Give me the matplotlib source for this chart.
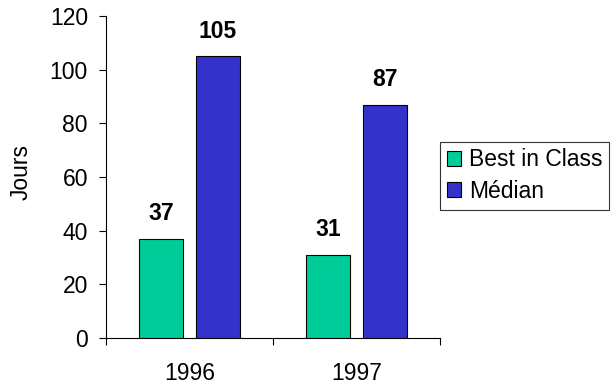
import matplotlib
matplotlib.use("Agg")
import matplotlib.pyplot as plt
import numpy as np

years = ["1996", "1997"]
best_in_class = [37, 31]
median = [105, 87]
series_names = ["Best in Class", "Médian"]
colors = ["#00CC99", "#3333CC"]

plt.rcParams["font.family"] = ["Liberation Sans", "DejaVu Sans"]

fig = plt.figure(figsize=(6.11, 3.87), dpi=100)
ax = fig.add_axes([106 / 611, 1 - 338 / 387, (440 - 106) / 611, (338 - 16) / 387])

x = np.arange(len(years))
w = 0.263
off = 0.17
fs = 16.5

for vals, name, col, sgn in [(best_in_class, series_names[0], colors[0], -1),
                             (median, series_names[1], colors[1], 1)]:
    bars = ax.bar(x + sgn * off, vals, width=w, color=col, edgecolor="black",
                  linewidth=0.8, label=name, zorder=3)
    for b, v in zip(bars, vals):
        ax.text(b.get_x() + b.get_width() / 2, v + 5, f"{v}", ha="center",
                va="bottom", fontsize=fs, fontweight="bold")

ax.set_xlim(-0.5, 1.5)
ax.set_ylim(0, 120)
ax.set_yticks(range(0, 121, 20))
ax.tick_params(axis="y", labelsize=fs, direction="out", length=5, width=0.8, pad=8)
ax.set_xticks([-0.5, 0.5, 1.5], minor=False)
ax.set_xticklabels([])
ax.tick_params(axis="x", direction="out", length=5, width=0.8)
ax.set_xticks(x, minor=True)
ax.set_xticklabels(years, minor=True, fontsize=fs)
ax.tick_params(axis="x", which="minor", length=0, pad=17)
for s in ["top", "right"]:
    ax.spines[s].set_visible(False)
ax.spines["left"].set_linewidth(0.8)
ax.spines["bottom"].set_linewidth(0.8)
ax.set_ylabel("Jours", fontsize=fs)
ax.yaxis.set_label_coords(-0.22, 0.515)

leg = ax.legend(loc="upper left", bbox_to_anchor=(1.0, 1 - (141.5 - 16) / 322),
                frameon=True, fancybox=False, edgecolor="black", fontsize=fs,
                handlelength=0.62, handleheight=0.62, handletextpad=0.35,
                borderpad=0.3, labelspacing=0.37, borderaxespad=0)
leg.get_frame().set_linewidth(0.8)

fig.savefig("out.png", dpi=100)
